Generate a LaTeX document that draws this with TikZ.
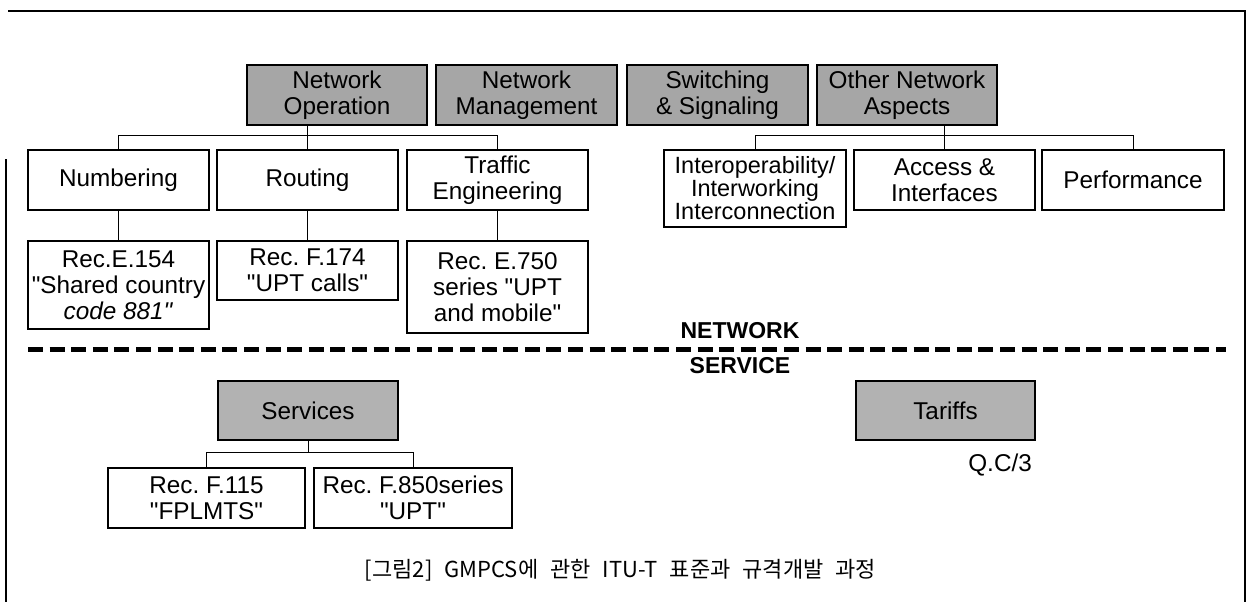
\documentclass[tikz,border=0pt]{standalone}
\usepackage{fontspec}
\setmainfont{Liberation Sans}[Ligatures=TeXOff]
\newfontfamily\kofont{Noto Sans CJK KR}
\newcommand{\sdq}{\symbol{34}}
\frenchspacing
\begin{document}
\begin{tikzpicture}[x=1pt,y=-1pt,
  box/.style={draw=black, line width=1.3pt, inner sep=0pt, align=center,
    font=\fontsize{24.3}{26}\selectfont, minimum height=60pt},
  graybox/.style={box, fill=black!35},
  conn/.style={draw=black, line width=1pt},
  lbl/.style={inner sep=0pt, font=\fontsize{24.3}{26}\selectfont},
  sep/.style={inner sep=0pt, font=\fontsize{23}{26}\selectfont\bfseries}]
\useasboundingbox (0,0) rectangle (1251,602);
% frame
\coordinate (ftl) at (8,11);
\coordinate (ftr) at (1245,11);
\coordinate (fbr) at (1245,602);
\coordinate (fl1) at (6,159);
\coordinate (fl2) at (6,602);
\draw[line width=1.8pt] (ftl) -- (ftr) -- (fbr);
\draw[line width=1.8pt] (fl1) -- (fl2);
% top row
\node[graybox, minimum width=180pt] (netop) at (337,95) {Network\\Operation};
\node[graybox, minimum width=181pt] (netmgmt) at (526.5,95) {Network\\Management};
\node[graybox, minimum width=181pt] (switch) at (717.5,95) {Switching\\\& Signaling};
\node[graybox, minimum width=180pt] (other) at (907,95) {Other Network\\Aspects};
% second row
\node[box, minimum width=181pt] (numbering) at (118.5,180) {Numbering};
\node[box, minimum width=181pt] (routing) at (307.5,180) {Routing};
\node[box, minimum width=181pt] (traffic) at (497.5,180) {Traffic\\Engineering};
\node[box, minimum width=182pt, minimum height=77pt, font=\fontsize{23.5}{21.5}\selectfont] (interop) at (755,188.5) {Interoperability/\\Interworking\\Interconnection};
\node[box, minimum width=181pt] (access) at (944.5,180) {Access \&\\Interfaces};
\node[box, minimum width=182pt] (perf) at (1133,180) {Performance};
% third row
\node[box, minimum width=181pt, minimum height=88pt] (e154) at (118.5,285) {Rec.E.154\\\sdq Shared country\\\textit{code 881\sdq}};
\node[box, minimum width=181pt, minimum height=59pt] (f174) at (307.5,270.5) {Rec. F.174\\\sdq UPT calls\sdq};
\node[box, minimum width=181pt, minimum height=92pt] (e750) at (497.5,287) {Rec. E.750\\series \sdq UPT\\and mobile\sdq};
% connectors network
\draw[conn] (netop.south -| routing.north) -- (routing.north);
\draw[conn] (numbering.north) -- ++(0,-14) -| (traffic.north);
\draw[conn] (numbering.south) -- (e154.north);
\draw[conn] (routing.south) -- (f174.north);
\draw[conn] (traffic.south) -- (e750.north);
\draw[conn] (other.south -| access.north) -- (access.north);
\draw[conn] (interop.north) -- ++(0,-14) -| (perf.north);
% separator
\coordinate (dl) at (28,349);
\coordinate (dr) at (1226,349);
\draw[line width=5pt, dash pattern=on 15pt off 6.6pt] (dl) -- (dr);
\node[sep] (nettxt) at (740,331) {NETWORK};
\node[sep] (svctxt) at (740,366) {SERVICE};
% services
\node[graybox, minimum width=180pt, minimum height=59pt, fill=black!30] (services) at (308,410.5) {Services};
\node[graybox, minimum width=179pt, minimum height=59pt, fill=black!30] (tariffs) at (945.5,410.5) {Tariffs};
\node[box, minimum width=197pt] (f115) at (206.5,498) {Rec. F.115\\\sdq FPLMTS\sdq};
\node[box, minimum width=198pt] (f850) at (413,498) {Rec. F.850series\\\sdq UPT\sdq};
\draw[conn] (services.south) -- (services.south |- 0,453);
\draw[conn] (f115.north) -- ++(0,-15) -| (f850.north);
\node[lbl, anchor=east] (qc) at (1032,465) {Q.C/3};
% caption
\node[inner sep=0pt, font=\kofont\fontsize{22}{24}\selectfont] (cap) at (620.5,570) {[그림2]\hspace{12pt}GMPCS에\hspace{12pt}관한\hspace{12pt}ITU-T\hspace{12pt}표준과\hspace{12pt}규격개발\hspace{12pt}과정};
\end{tikzpicture}
\end{document}
